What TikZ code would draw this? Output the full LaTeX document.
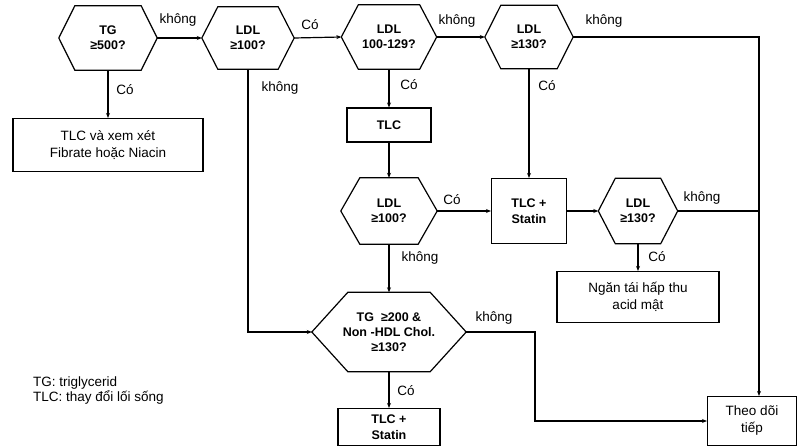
\documentclass[tikz,border=0pt]{standalone}
\usepackage{fontspec}
\setmainfont{Liberation Sans}
\usetikzlibrary{arrows.meta}
\tikzset{
  hexnode/.style={rectangle, inner sep=0pt, align=center, font=\bfseries\fontsize{12.5}{15}\selectfont},
  boxnode/.style={draw, line width=1.1pt, rectangle, inner sep=0pt, align=center, font=\fontsize{13.5}{17}\selectfont},
  bboxnode/.style={boxnode, font=\bfseries\fontsize{12.5}{15.5}\selectfont},
  hexline/.style={line width=1.2pt, line join=miter},
  conn/.style={line width=1.2pt, -{Stealth[length=5pt,width=4pt]}},
  plain/.style={line width=1.2pt},
  lbl/.style={font=\fontsize{13.5}{15}\selectfont, inner sep=0pt},
}
\newcommand\hexdraw[2]{\draw[hexline] ([xshift=#2]#1.north west) -- ([xshift=-#2]#1.north east) -- (#1.east) -- ([xshift=-#2]#1.south east) -- ([xshift=#2]#1.south west) -- (#1.west) -- cycle;}
\begin{document}
\begin{tikzpicture}[x=1pt,y=-1pt]
\useasboundingbox (0,0) rectangle (801,446);
% hexagons
\node[hexnode, minimum width=98pt, minimum height=64pt] (h1) at (108,38) {TG\\≥500?};
\node[hexnode, minimum width=92pt, minimum height=62pt] (h2) at (248,38) {LDL\\≥100?};
\node[hexnode, minimum width=95pt, minimum height=64pt] (h3) at (389,37) {LDL\\100-129?};
\node[hexnode, minimum width=88pt, minimum height=63pt] (h4) at (529,37) {LDL\\≥130?};
\node[hexnode, minimum width=96pt, minimum height=66pt] (h6) at (389,211) {LDL\\≥100?};
\node[hexnode, minimum width=79pt, minimum height=65pt] (h7) at (638,211) {LDL\\≥130?};
\node[hexnode, minimum width=154pt, minimum height=79pt] (h5) at (389,332) {TG\ \ ≥200 \&\\Non -HDL Chol.\\≥130?};
\hexdraw{h1}{16pt}
\hexdraw{h2}{16pt}
\hexdraw{h3}{17pt}
\hexdraw{h4}{16pt}
\hexdraw{h6}{19pt}
\hexdraw{h7}{17pt}
\hexdraw{h5}{36pt}
% boxes
\node[boxnode, minimum width=190pt, minimum height=53pt] (b1) at (108,145) {TLC và xem xét\\Fibrate hoặc Niacin};
\node[bboxnode, minimum width=84pt, minimum height=34pt] (tlc) at (389,125) {TLC};
\node[bboxnode, minimum width=75pt, minimum height=65pt] (tlcs) at (529,211) {TLC +\\Statin};
\node[boxnode, minimum width=162pt, minimum height=51pt] (ngan) at (638,297) {Ngăn tái hấp thu\\acid mật};
\node[bboxnode, minimum width=102pt, minimum height=37pt] (tlcs2) at (389,427) {TLC +\\Statin};
\node[boxnode, minimum width=89pt, minimum height=49pt] (theo) at (752,421) {Theo dõi\\tiếp};
% legend
\node[anchor=west, align=left, inner sep=0pt, font=\fontsize{13.5}{15}\selectfont] (leg) at (33,391) {TG: triglycerid\\TLC: thay đổi lối sống};
% helper coordinates
\coordinate (vx) at ([xshift=7pt]theo.north);
\coordinate (bend) at (535,332);
% connectors
\draw[conn] (h1.east) -- (h2.west);
\draw[conn] (h2.east) -- (h3.west);
\draw[conn] (h3.east) -- (h4.west);
\draw[conn] (h4.east) -| (vx);
\draw[conn] (h1.south) -- (b1.north);
\draw[conn] (h2.south) |- (h5.west);
\draw[conn] (h3.south) -- (tlc.north);
\draw[conn] (tlc.south) -- (h6.north);
\draw[conn] (h6.east) -- (tlcs.west);
\draw[conn] (h4.south) -- (tlcs.north);
\draw[conn] (tlcs.east) -- (h7.west);
\draw[plain] (h7.east) -- (h7.east -| vx);
\draw[conn] (h7.south) -- (ngan.north);
\draw[conn] (h6.south) -- (h5.north);
\draw[conn] (h5.south) -- (tlcs2.north);
\draw[conn] (h5.east) -- (bend) |- (theo.west);
% labels
\node[lbl] (l1) at (178,20) {không};
\node[lbl] (l2) at (310,25) {Có};
\node[lbl] (l3) at (457,21) {không};
\node[lbl] (l4) at (604,21) {không};
\node[lbl] (l5) at (125,90) {Có};
\node[lbl] (l6) at (280,88) {không};
\node[lbl] (l7) at (409,85) {Có};
\node[lbl] (l8) at (547,86) {Có};
\node[lbl] (l9) at (452,200) {Có};
\node[lbl] (l10) at (702,198) {không};
\node[lbl] (l11) at (657,257) {Có};
\node[lbl] (l12) at (420,258) {không};
\node[lbl] (l13) at (494,318) {không};
\node[lbl] (l14) at (406,391) {Có};
\end{tikzpicture}
\end{document}
